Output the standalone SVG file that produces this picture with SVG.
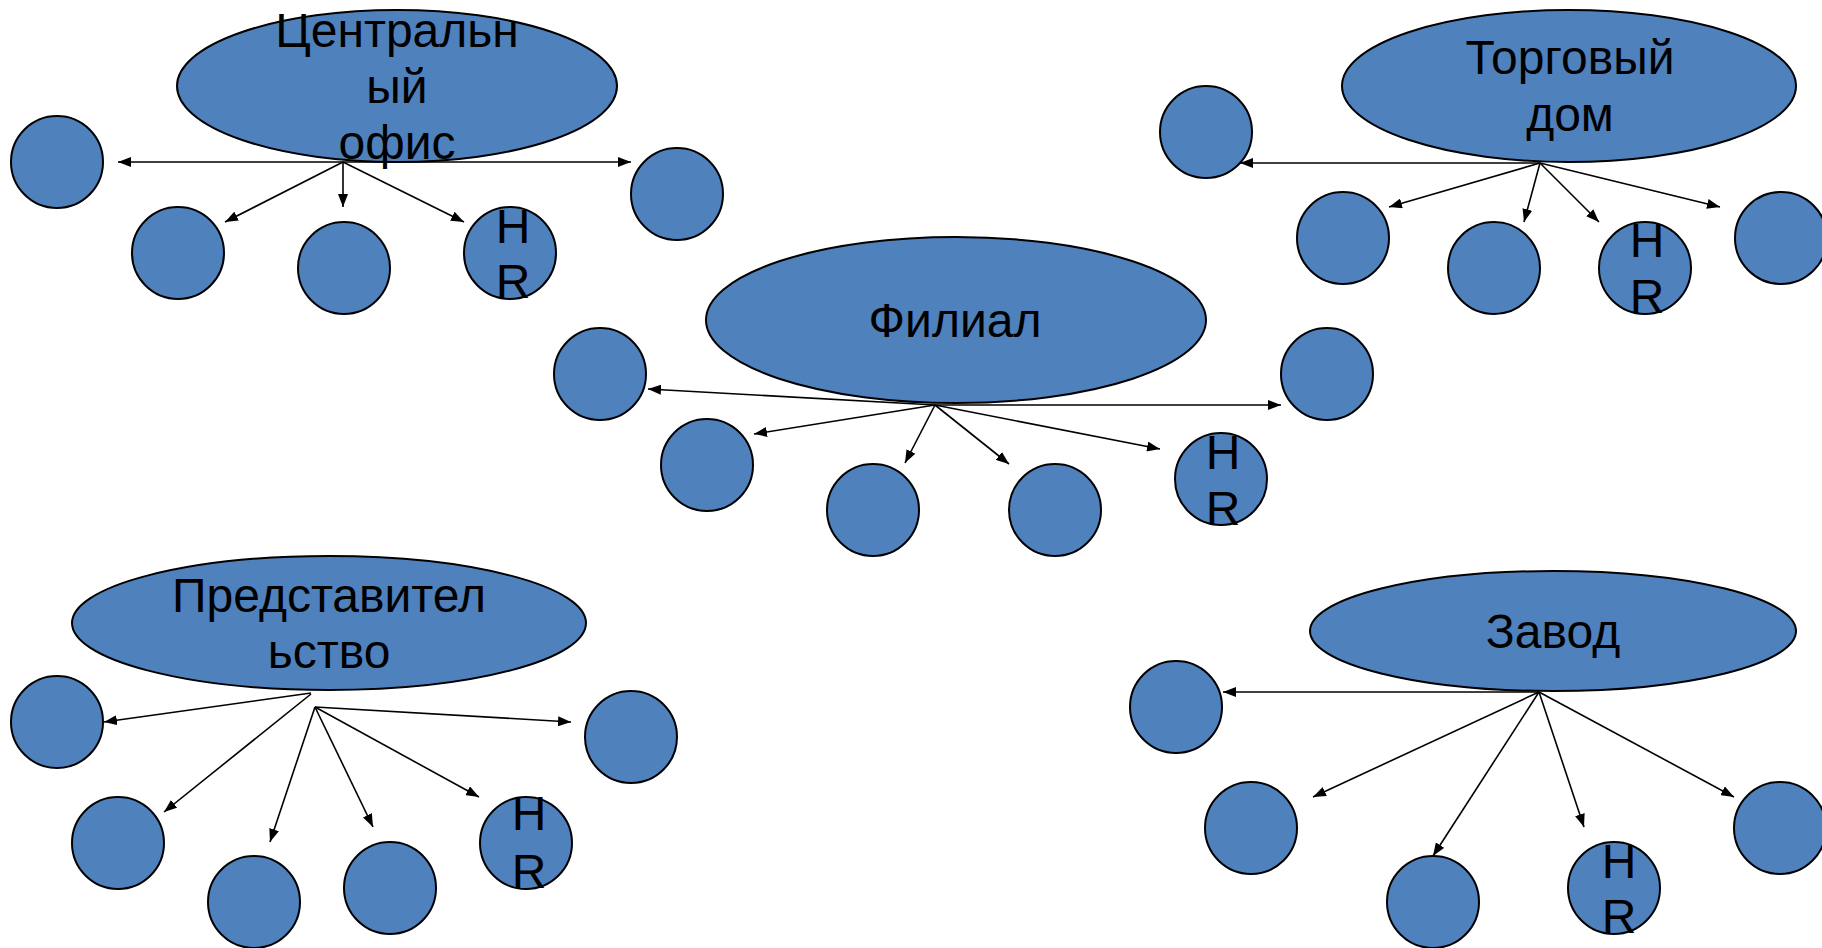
<svg xmlns="http://www.w3.org/2000/svg" width="1822" height="948" viewBox="0 0 1822 948">
<style>
.n{fill:#4F81BD;stroke:#000;stroke-width:2}
.t{font-family:"Liberation Sans",Arial,sans-serif;font-size:48px;fill:#000;text-anchor:middle}
.c line{stroke:#000;stroke-width:1.6;marker-end:url(#ah)}
</style>
<defs>
<marker id="ah" markerUnits="userSpaceOnUse" markerWidth="13" markerHeight="10" refX="13" refY="5" orient="auto">
<path d="M0,0 L13,5 L0,10 z" fill="#000"/>
</marker>
</defs>
<rect width="1822" height="948" fill="#fff"/>

<g id="central-office">
<ellipse class="n" cx="397" cy="86" rx="220" ry="76"/>
<text class="t" x="397" y="47">Центральн</text>
<text class="t" x="397" y="103">ый</text>
<text class="t" x="397" y="159">офис</text>
</g>
<g id="co-1"><circle class="n" cx="57" cy="162" r="46"/></g>
<g id="co-2"><circle class="n" cx="178" cy="253" r="46"/></g>
<g id="co-3"><circle class="n" cx="344" cy="268" r="46"/></g>
<g id="co-hr"><circle class="n" cx="510" cy="253" r="46"/><text class="t" x="513" y="243">H</text><text class="t" x="513" y="298">R</text></g>
<g id="co-5"><circle class="n" cx="677" cy="194" r="46"/></g>

<g id="trading-house">
<ellipse class="n" cx="1569" cy="86" rx="227" ry="76"/>
<text class="t" x="1570" y="74">Торговый</text>
<text class="t" x="1570" y="131">дом</text>
</g>
<g id="th-1"><circle class="n" cx="1206" cy="132" r="46"/></g>
<g id="th-2"><circle class="n" cx="1343" cy="238" r="46"/></g>
<g id="th-3"><circle class="n" cx="1494" cy="268" r="46"/></g>
<g id="th-hr"><circle class="n" cx="1645" cy="268" r="46"/><text class="t" x="1647" y="257">H</text><text class="t" x="1647" y="313">R</text></g>
<g id="th-5"><circle class="n" cx="1781" cy="238" r="46"/></g>

<g id="branch">
<ellipse class="n" cx="956" cy="320" rx="250" ry="83"/>
<text class="t" x="955" y="337">Филиал</text>
</g>
<g id="br-1"><circle class="n" cx="600" cy="374" r="46"/></g>
<g id="br-2"><circle class="n" cx="707" cy="465" r="46"/></g>
<g id="br-3"><circle class="n" cx="873" cy="510" r="46"/></g>
<g id="br-4"><circle class="n" cx="1055" cy="510" r="46"/></g>
<g id="br-hr"><circle class="n" cx="1221" cy="479" r="46"/><text class="t" x="1223" y="469">H</text><text class="t" x="1223" y="525">R</text></g>
<g id="br-6"><circle class="n" cx="1327" cy="374" r="46"/></g>

<g id="representative-office">
<ellipse class="n" cx="329" cy="623" rx="257" ry="67"/>
<text class="t" x="329" y="612">Представител</text>
<text class="t" x="329" y="668">ьство</text>
</g>
<g id="ro-1"><circle class="n" cx="57" cy="722" r="46"/></g>
<g id="ro-2"><circle class="n" cx="118" cy="843" r="46"/></g>
<g id="ro-3"><circle class="n" cx="254" cy="902" r="46"/></g>
<g id="ro-4"><circle class="n" cx="390" cy="888" r="46"/></g>
<g id="ro-hr"><circle class="n" cx="526" cy="843" r="46"/><text class="t" x="529" y="830">H</text><text class="t" x="529" y="888">R</text></g>
<g id="ro-6"><circle class="n" cx="631" cy="737" r="46"/></g>

<g id="plant">
<ellipse class="n" cx="1553" cy="631" rx="243" ry="60"/>
<text class="t" x="1553" y="648">Завод</text>
</g>
<g id="pl-1"><circle class="n" cx="1176" cy="707" r="46"/></g>
<g id="pl-2"><circle class="n" cx="1251" cy="828" r="46"/></g>
<g id="pl-3"><circle class="n" cx="1433" cy="902" r="46"/></g>
<g id="pl-hr"><circle class="n" cx="1614" cy="888" r="46"/><text class="t" x="1619" y="878">H</text><text class="t" x="1619" y="933">R</text></g>
<g id="pl-5"><circle class="n" cx="1780" cy="828" r="46"/></g>

<g id="connectors" class="c">
<line x1="343" y1="162" x2="118" y2="162"/>
<line x1="343" y1="162" x2="225" y2="222"/>
<line x1="343" y1="162" x2="343" y2="207"/>
<line x1="343" y1="162" x2="464" y2="222"/>
<line x1="343" y1="162" x2="631" y2="162"/>

<line x1="1540" y1="163" x2="1240" y2="163"/>
<line x1="1540" y1="163" x2="1389" y2="207"/>
<line x1="1540" y1="163" x2="1524" y2="222"/>
<line x1="1540" y1="163" x2="1599" y2="222"/>
<line x1="1540" y1="163" x2="1720" y2="207"/>

<line x1="935" y1="405" x2="648" y2="389"/>
<line x1="935" y1="405" x2="754" y2="434"/>
<line x1="935" y1="405" x2="905" y2="463"/>
<line x1="935" y1="405" x2="1009" y2="464"/>
<line x1="935" y1="405" x2="1160" y2="449"/>
<line x1="935" y1="405" x2="1281" y2="405"/>

<line x1="311" y1="693" x2="104" y2="722"/>
<line x1="311" y1="694" x2="164" y2="812"/>
<line x1="315" y1="707" x2="270" y2="842"/>
<line x1="315" y1="707" x2="373" y2="827"/>
<line x1="315" y1="707" x2="479" y2="797"/>
<line x1="315" y1="707" x2="571" y2="722"/>

<line x1="1539" y1="692" x2="1223" y2="692"/>
<line x1="1539" y1="692" x2="1313" y2="797"/>
<line x1="1539" y1="692" x2="1433" y2="856"/>
<line x1="1539" y1="692" x2="1584" y2="827"/>
<line x1="1539" y1="692" x2="1734" y2="797"/>
</g>
</svg>
